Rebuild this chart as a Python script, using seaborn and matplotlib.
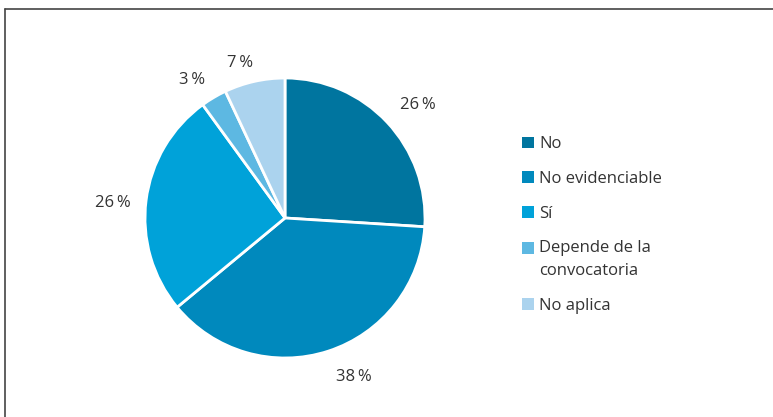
import matplotlib
matplotlib.use("Agg")
import matplotlib.pyplot as plt
import matplotlib.transforms as mtransforms
from matplotlib.patches import Patch, Rectangle
from matplotlib.lines import Line2D
from matplotlib.legend_handler import HandlerPatch
import seaborn as sns

categories = ["No", "No evidenciable", "Sí", "Depende de la\nconvocatoria", "No aplica"]
values = [26, 38, 26, 3, 7]
colors = ["#00759f", "#0089bd", "#00a2d9", "#5db8e2", "#abd3ee"]
# small nudges (in pixels) for the percentage labels
label_nudges = [(8, -4), (16, 3), (-3, -6), (-6, -9), (-8, -12)]

sns.set_theme(style="white")
plt.rcParams["font.family"] = ["Open Sans", "DejaVu Sans"]
text_color = "#333333"

W, H = 773, 417
fig = plt.figure(figsize=(W / 100, H / 100), dpi=100)

# frame lines along top and left edge
fig.add_artist(Line2D([5 / W, 1.0], [1 - 9 / H, 1 - 9 / H], color="#444444", lw=1.2,
                      transform=fig.transFigure))
fig.add_artist(Line2D([5 / W, 5 / W], [0.0, 1 - 9 / H], color="#444444", lw=1.2,
                      transform=fig.transFigure))

cx, cy, r = 285, 218, 140
ax = fig.add_axes([(cx - r) / W, (H - cy - r) / H, 2 * r / W, 2 * r / H])
wedges, texts = ax.pie(
    values,
    colors=colors,
    startangle=90,
    counterclock=False,
    labels=[f"{v}\u2009%" for v in values],
    labeldistance=1.22,
    wedgeprops=dict(edgecolor="white", linewidth=2),
    textprops=dict(fontsize=12, color=text_color),
)
ax.set_xlim(-1, 1)
ax.set_ylim(-1, 1)
ax.set_aspect("equal")
ax.axis("off")
for t, (dx, dy) in zip(texts, label_nudges):
    t.set_ha("center")
    t.set_va("center")
    t.set_transform(mtransforms.offset_copy(ax.transData, fig=fig, x=dx, y=dy, units="dots"))


def top_aligned_square(legend, orig_handle, xdescent, ydescent, width, height, fontsize):
    # keep the swatch next to the first line of a two-line label
    return Rectangle((-xdescent, -ydescent + 8.3), width, height)


handles = [Patch(facecolor=c, edgecolor="none") for c in colors]
leg = fig.legend(
    handles, categories,
    loc="upper left",
    bbox_to_anchor=(514 / W, 1 - 128 / H),
    frameon=False,
    fontsize=12,
    handlelength=0.7,
    handleheight=0.7,
    handletextpad=0.3,
    labelspacing=1.12,
    borderpad=0,
    handler_map={handles[3]: HandlerPatch(patch_func=top_aligned_square)},
)
for t in leg.get_texts():
    t.set_color(text_color)
    t.set_linespacing(1.55)

fig.savefig("out.png", dpi=100, facecolor="white")
